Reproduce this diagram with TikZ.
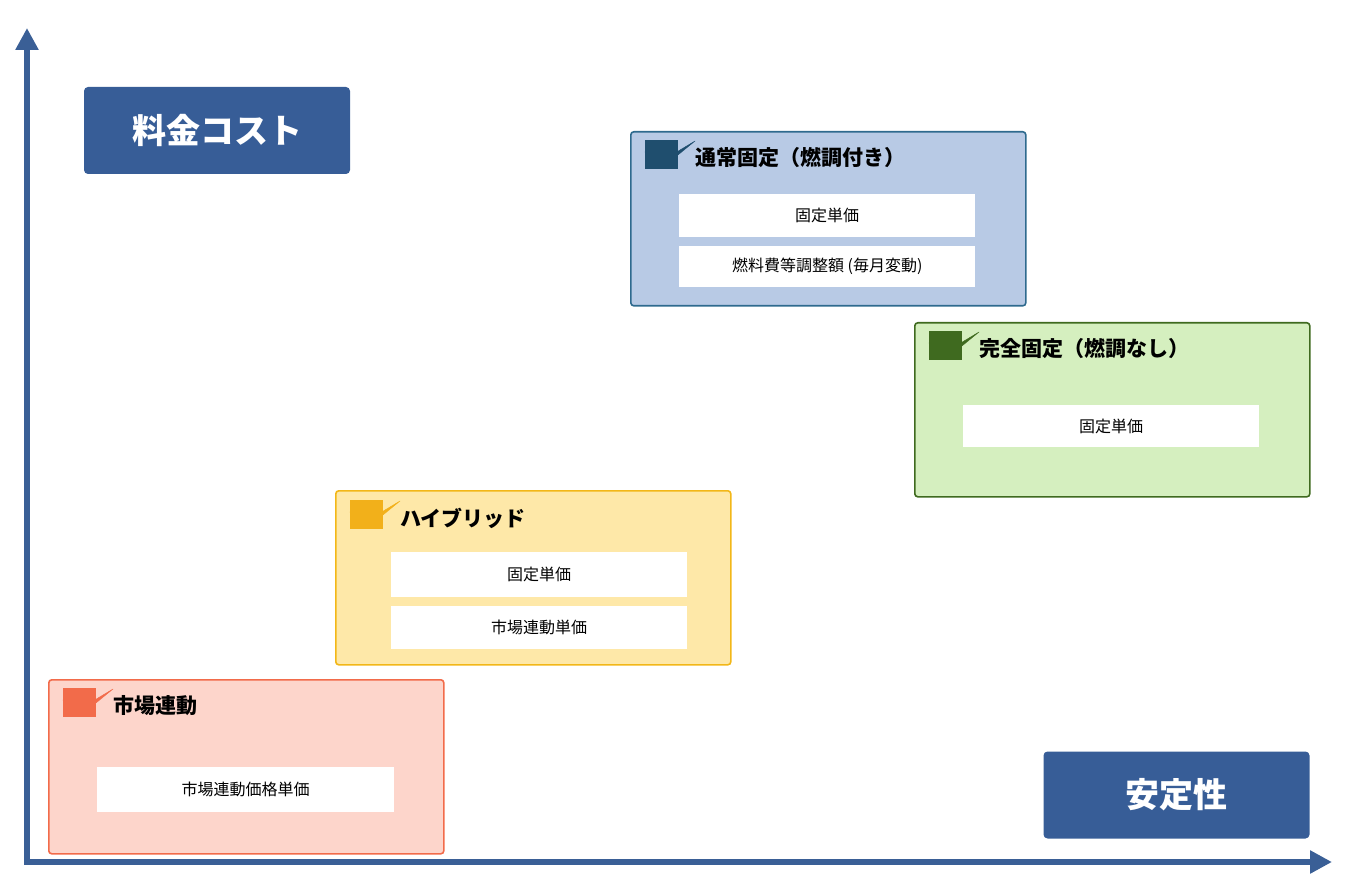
\documentclass[tikz,border=0pt]{standalone}
\usepackage{fontspec}
\setmainfont{Noto Sans CJK JP}
\usetikzlibrary{arrows.meta}
\definecolor{ax}{HTML}{3A5F96}
\definecolor{navy}{HTML}{375D97}
\definecolor{bfill}{HTML}{B8CAE5}\definecolor{bline}{HTML}{2E6A8E}\definecolor{bchk}{HTML}{1F4E6E}
\definecolor{gfill}{HTML}{D5EFBF}\definecolor{gline}{HTML}{3F6A1F}\definecolor{gchk}{HTML}{3F6A1F}
\definecolor{yfill}{HTML}{FEE8A8}\definecolor{yline}{HTML}{F2B718}\definecolor{ychk}{HTML}{F2B01A}
\definecolor{rfill}{HTML}{FDD5CB}\definecolor{rline}{HTML}{F26B4A}\definecolor{rchk}{HTML}{F26B4A}
\begin{document}
\begin{tikzpicture}[x=1pt,y=-1pt,
 lbl/.style={fill=navy,rounded corners=4pt,text=white,font=\bfseries\fontsize{34}{40}\selectfont,minimum width=266pt,minimum height=87pt,inner sep=0pt},
 grp/.style={rounded corners=3pt,line width=1.6pt,anchor=north west,minimum width=395pt,minimum height=174pt,inner sep=0pt},
 cell/.style={fill=white,anchor=north west,minimum width=296pt,inner sep=0pt,font=\fontsize{16}{19}\selectfont},
 ttl/.style={anchor=west,font=\bfseries\fontsize{21}{25}\selectfont,inner sep=0pt},
 chkbox/.pic={\draw[line width=1.5pt,pic actions] (0,0) rectangle (31,27);
   \fill[pic actions] (-1,11) -- (8,11) -- (14,21) -- (49,0) -- (16,27) -- (12,27) -- cycle;}]
\useasboundingbox (0,0) rectangle (1360,890);
\coordinate (o) at (27,862);
\coordinate (yt) at (27,28);
\coordinate (xt) at (1332,862);
\draw[ax,line width=6pt,-{Triangle[length=22pt,width=22pt]}] (o) -- (yt);
\draw[ax,line width=6pt,-{Triangle[length=22pt,width=22pt]}] ([xshift=-3pt]o) -- (xt);
\node[lbl] (cost) at (217,130.5) {料金コスト};
\node[lbl] (stab) at (1176.5,795) {安定性};
% blue
\node[grp,fill=bfill,draw=bline] (b) at (630,131) {};
\pic[draw=bchk,fill=bchk,fill opacity=1] at (646,141) {chkbox};
\node[ttl] (bt) at (695,158) {通常固定（燃調付き）};
\node[cell,minimum height=43pt] (b1) at (679,194) {固定単価};
\node[cell,minimum height=41pt] (b2) at (679,246) {燃料費等調整額 (毎月変動)};
% green
\node[grp,fill=gfill,draw=gline] (g) at (914,322) {};
\pic[draw=gchk,fill=gchk] at (930,332) {chkbox};
\node[ttl] (gt) at (979,349) {完全固定（燃調なし）};
\node[cell,minimum height=42pt] (g1) at (963,405) {固定単価};
% yellow
\node[grp,fill=yfill,draw=yline] (y) at (335,490) {};
\pic[draw=ychk,fill=ychk] at (351,501) {chkbox};
\node[ttl] (yt2) at (400,518) {ハイブリッド};
\node[cell,minimum height=45pt] (y1) at (391,552) {固定単価};
\node[cell,minimum height=43pt] (y2) at (391,606) {市場連動単価};
% red
\node[grp,fill=rfill,draw=rline] (r) at (48,679) {};
\pic[draw=rchk,fill=rchk] at (64,689) {chkbox};
\node[ttl] (rt) at (113,706) {市場連動};
\node[cell,minimum height=45pt,minimum width=297pt] (r1) at (97,767) {市場連動価格単価};
\end{tikzpicture}
\end{document}
